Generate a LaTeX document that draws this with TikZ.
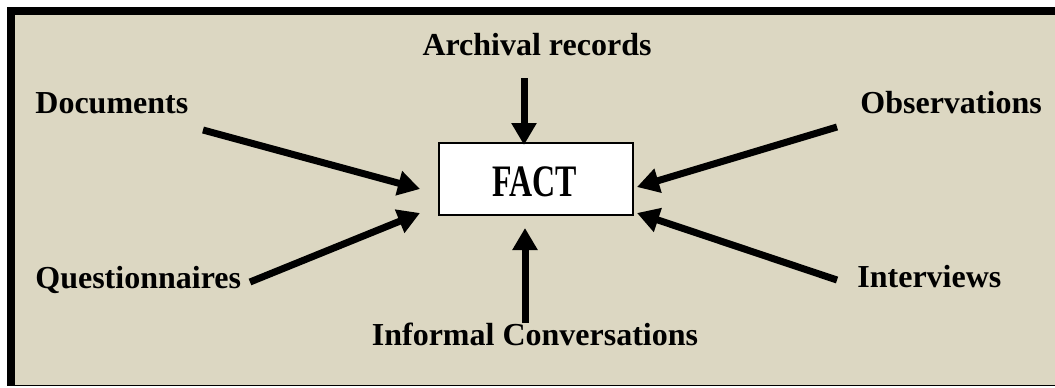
\documentclass[tikz,border=0pt]{standalone}
\usepackage{fontspec}
\setmainfont{Liberation Serif}
\usetikzlibrary{arrows.meta}
\definecolor{panel}{RGB}{220,215,194}
\tikzset{
  label/.style={inner sep=0pt, font=\fontsize{16}{18}\selectfont\bfseries},
  feed/.style={line width=3.5pt, -{Triangle[width=12pt,length=11pt]}},
  factbox/.style={draw, line width=0.7pt, fill=white, minimum width=97pt,
    minimum height=36pt, inner sep=0pt}
}
\begin{document}
\begin{tikzpicture}[x=0.5pt,y=-0.5pt]
  \useasboundingbox (0,0) rectangle (1055,387);
  % panel and frame
  \fill[white] (0,0) rectangle (1055,387);
  \fill[panel] (7,7) rectangle (1055,386);
  \draw[line width=4pt] (7,11) -- (1055,11);
  \draw[line width=4pt] (11,7) -- (11,386);
  \draw[line width=0.8pt] (7,385.3) -- (1055,385.3);

  % central box
  \node[factbox] (fact) at (536,179) {};
  \node (facttxt) at (535,182)
    {\scalebox{0.71}[1]{\fontsize{22.5}{24}\selectfont\bfseries FACT}};

  % sources
  \node[label, anchor=base] (arch) at (537,55) {Archival records};
  \node[label, anchor=base west] (docs) at (35,113) {Documents};
  \node[label, anchor=base west] (obs) at (860,113) {Observations};
  \node[label, anchor=base west] (quest) at (35,288) {Questionnaires};
  \node[label, anchor=base west] (inter) at (857,287) {Interviews};
  \node[label, anchor=base] (conv) at (535,345) {Informal Conversations};

  % arrow ends
  \coordinate (archS) at (524,78);   \coordinate (archT) at (524,145);
  \coordinate (docsS) at (203,130);  \coordinate (docsT) at (420,189);
  \coordinate (questS) at (250,282); \coordinate (questT) at (420,213);
  \coordinate (obsS) at (837,127);   \coordinate (obsT) at (637,187);
  \coordinate (interS) at (837,280); \coordinate (interT) at (637,213);
  \coordinate (convS) at (525,323);  \coordinate (convT) at (525,228);

  \draw[feed] (archS) -- (archT);
  \draw[feed] (docsS) -- (docsT);
  \draw[feed] (questS) -- (questT);
  \draw[feed] (obsS) -- (obsT);
  \draw[feed] (interS) -- (interT);
  \draw[feed] (convS) -- (convT);
\end{tikzpicture}
\end{document}
